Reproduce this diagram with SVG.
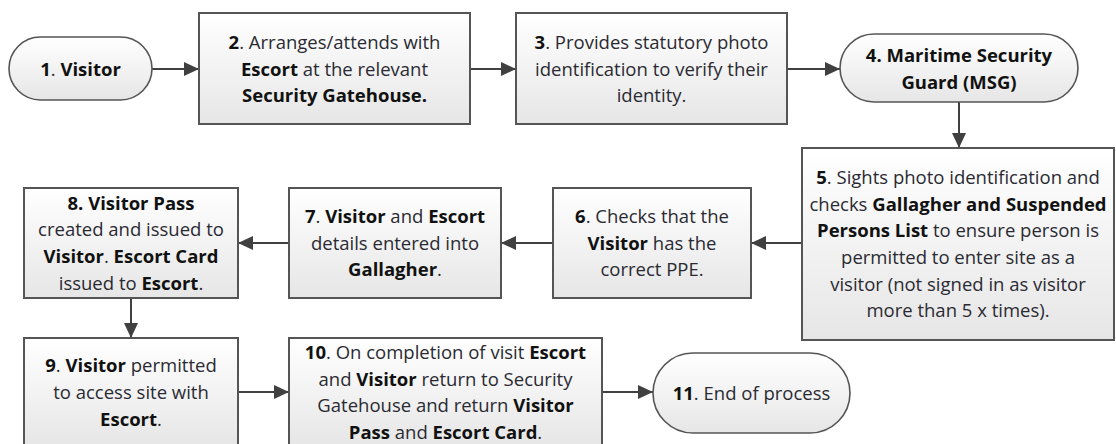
<svg xmlns="http://www.w3.org/2000/svg" width="1116" height="444" viewBox="0 0 1116 444">
<defs>
<linearGradient id="g" x1="0" y1="0" x2="0" y2="1">
<stop offset="0" stop-color="#ffffff"/>
<stop offset="1" stop-color="#e6e6e6"/>
</linearGradient>
<marker id="ah" markerUnits="userSpaceOnUse" markerWidth="16" markerHeight="16" refX="15" refY="7" orient="auto">
<path d="M0,0 L15,7 L0,14 z" fill="#404040"/>
</marker>
<style>
.box{fill:url(#g);stroke:#555555;stroke-width:2}
.pill{fill:url(#g);stroke:#555555;stroke-width:1.6}
.t{font-family:"Open Sans","Noto Sans","Liberation Sans",sans-serif;font-size:18.5px;fill:#2a2a32;text-anchor:middle}
.b{font-weight:bold;fill:#111111}
.c{fill:none;stroke:#404040;stroke-width:2;marker-end:url(#ah)}
</style>
</defs>
<rect width="1116" height="444" fill="#ffffff"/>
<g id="connectors">
<line class="c" x1="152" y1="69" x2="199" y2="69"/>
<line class="c" x1="470" y1="69" x2="516" y2="69"/>
<line class="c" x1="787" y1="69" x2="840" y2="69"/>
<line class="c" x1="959" y1="102" x2="959" y2="148"/>
<line class="c" x1="802" y1="243" x2="751" y2="243"/>
<line class="c" x1="553" y1="243" x2="501" y2="243"/>
<line class="c" x1="289" y1="243" x2="238" y2="243"/>
<line class="c" x1="131" y1="298" x2="131" y2="338"/>
<line class="c" x1="238" y1="392" x2="289" y2="392"/>
<line class="c" x1="602" y1="392" x2="653" y2="392"/>
</g>
<g id="n1">
<rect class="pill" x="9" y="37" width="143" height="63" rx="31.5"/>
<text class="t" x="80.5" y="75.5"><tspan class="b">1</tspan>. <tspan class="b">Visitor</tspan></text>
</g>
<g id="n2">
<rect class="box" x="199" y="13" width="271" height="111"/>
<text class="t" x="334.5" y="48.8"><tspan class="b">2</tspan>. Arranges/attends with</text>
<text class="t" x="334.5" y="75.5"><tspan class="b">Escort</tspan> at the relevant</text>
<text class="t" x="334.5" y="102.2"><tspan class="b">Security Gatehouse.</tspan></text>
</g>
<g id="n3">
<rect class="box" x="516" y="13" width="271" height="111"/>
<text class="t" x="651.5" y="48.8"><tspan class="b">3</tspan>. Provides statutory photo</text>
<text class="t" x="651.5" y="75.5">identification to verify their</text>
<text class="t" x="651.5" y="102.2">identity.</text>
</g>
<g id="n4">
<rect class="pill" x="840" y="34" width="238" height="68" rx="34"/>
<text class="t b" x="959" y="62">4. Maritime Security</text>
<text class="t b" x="959" y="88.7">Guard (MSG)</text>
</g>
<g id="n5">
<rect class="box" x="802" y="148" width="312" height="192"/>
<text class="t" x="958" y="183.8"><tspan class="b">5</tspan>. Sights photo identification and</text>
<text class="t" x="958" y="210.5">checks <tspan class="b">Gallagher and Suspended</tspan></text>
<text class="t" x="958" y="237.2"><tspan class="b">Persons List</tspan> to ensure person is</text>
<text class="t" x="958" y="263.8">permitted to enter site as a</text>
<text class="t" x="958" y="290.5">visitor (not signed in as visitor</text>
<text class="t" x="958" y="317.2">more than 5 x times).</text>
</g>
<g id="n6">
<rect class="box" x="553" y="188" width="198" height="110"/>
<text class="t" x="652" y="222.8"><tspan class="b">6</tspan>. Checks that the</text>
<text class="t" x="652" y="249.5"><tspan class="b">Visitor</tspan> has the</text>
<text class="t" x="652" y="276.2">correct PPE.</text>
</g>
<g id="n7">
<rect class="box" x="289" y="188" width="212" height="110"/>
<text class="t" x="395" y="222.8"><tspan class="b">7</tspan>. <tspan class="b">Visitor</tspan> and <tspan class="b">Escort</tspan></text>
<text class="t" x="395" y="249.5">details entered into</text>
<text class="t" x="395" y="276.2"><tspan class="b">Gallagher</tspan>.</text>
</g>
<g id="n8">
<rect class="box" x="24" y="188" width="214" height="110"/>
<text class="t" x="131" y="209.5"><tspan class="b">8. Visitor Pass</tspan></text>
<text class="t" x="131" y="236.2">created and issued to</text>
<text class="t" x="131" y="262.8"><tspan class="b">Visitor</tspan>. <tspan class="b">Escort Card</tspan></text>
<text class="t" x="131" y="289.5">issued to <tspan class="b">Escort</tspan>.</text>
</g>
<g id="n9">
<rect class="box" x="24" y="338" width="214" height="109"/>
<text class="t" x="131" y="372.3"><tspan class="b">9</tspan>. <tspan class="b">Visitor</tspan> permitted</text>
<text class="t" x="131" y="399">to access site with</text>
<text class="t" x="131" y="425.7"><tspan class="b">Escort</tspan>.</text>
</g>
<g id="n10">
<rect class="box" x="289" y="338" width="313" height="109"/>
<text class="t" x="445.5" y="359"><tspan class="b">10</tspan>. On completion of visit <tspan class="b">Escort</tspan></text>
<text class="t" x="445.5" y="385.7">and <tspan class="b">Visitor</tspan> return to Security</text>
<text class="t" x="445.5" y="412.3">Gatehouse and return <tspan class="b">Visitor</tspan></text>
<text class="t" x="445.5" y="439"><tspan class="b">Pass</tspan> and <tspan class="b">Escort Card</tspan>.</text>
</g>
<g id="n11">
<rect class="pill" x="653" y="353" width="197" height="80" rx="40"/>
<text class="t" x="751.5" y="399.5"><tspan class="b">11</tspan>. End of process</text>
</g>
</svg>
